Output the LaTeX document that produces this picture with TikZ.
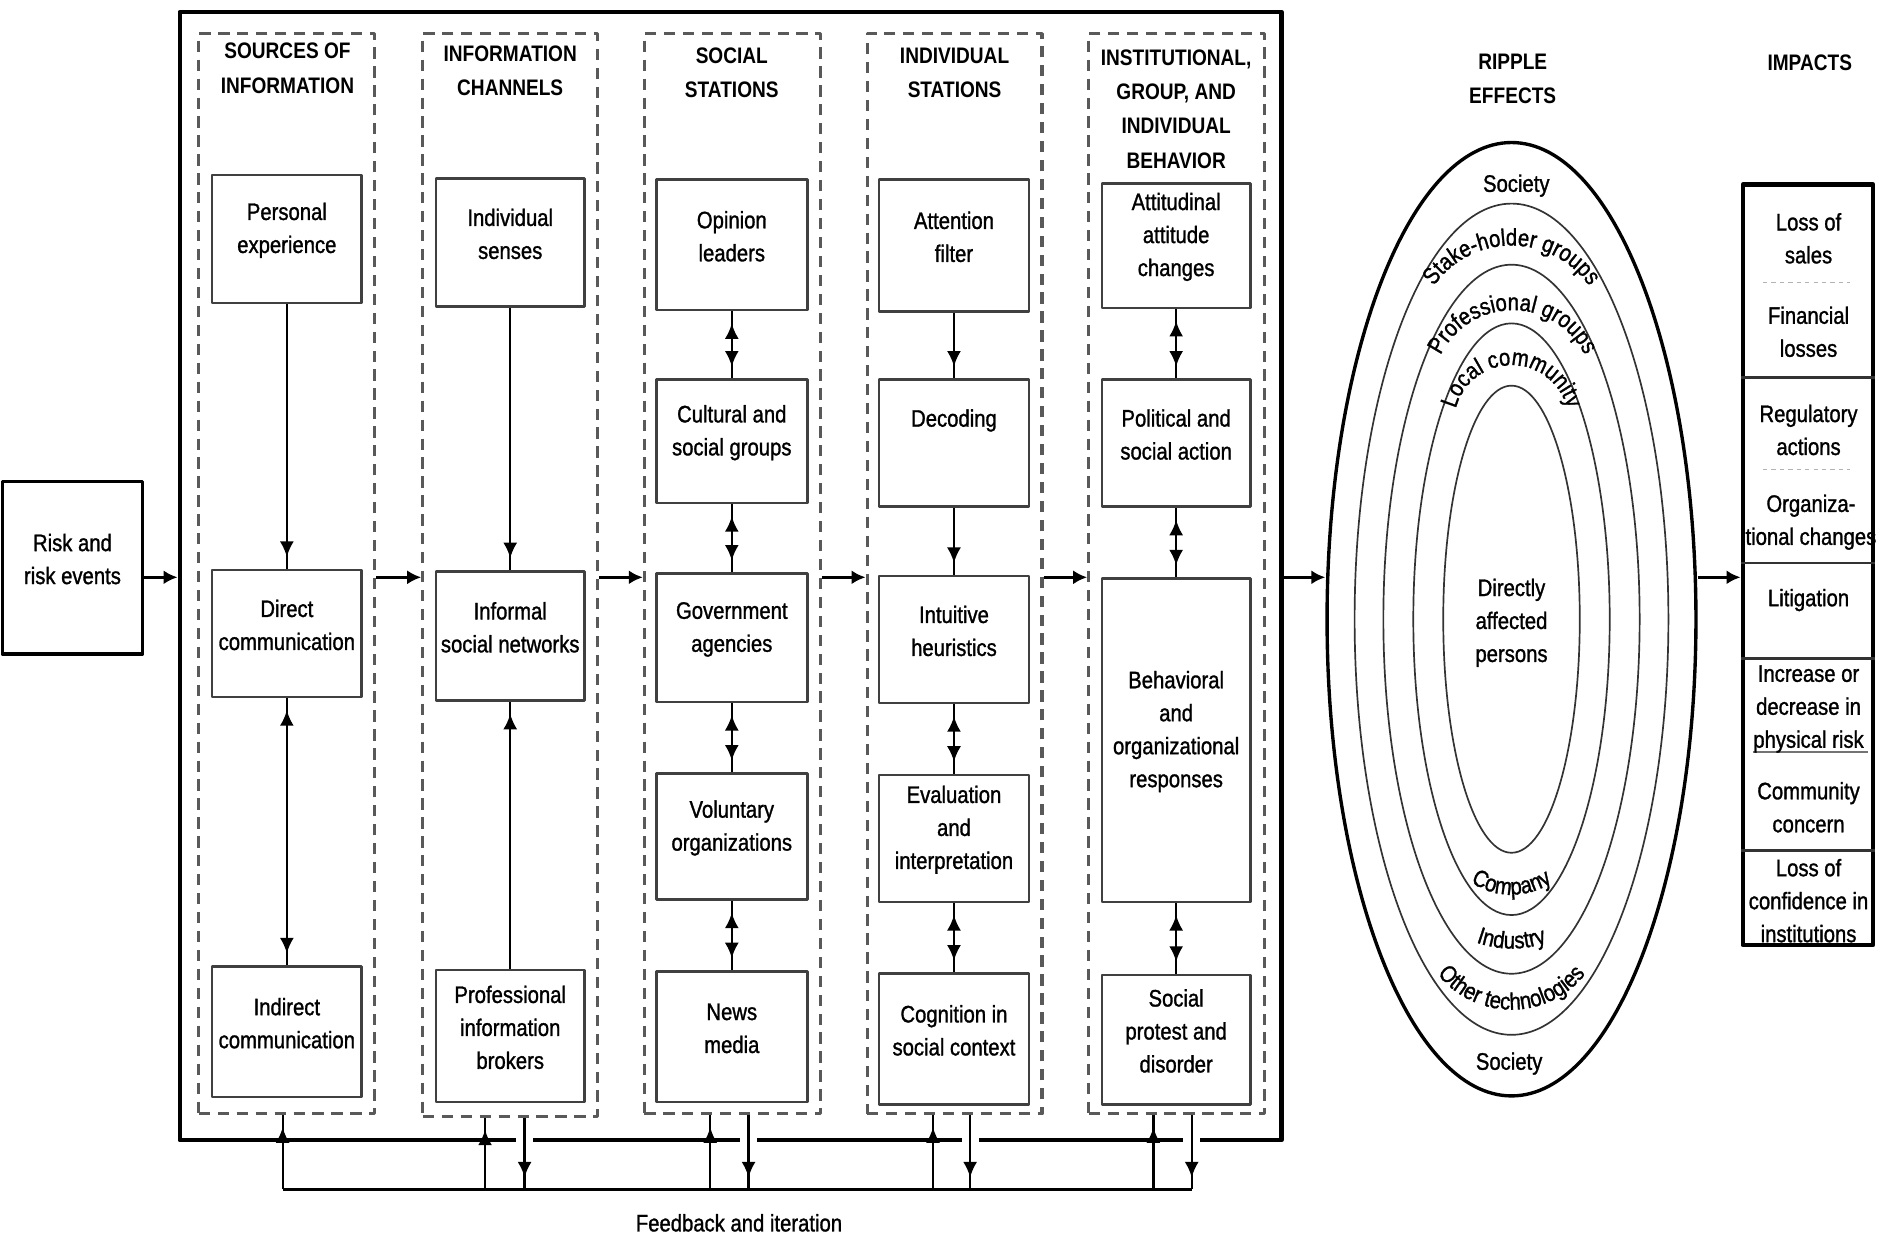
\documentclass[tikz,border=0pt]{standalone}
\usepackage{fontspec}
\setmainfont{Liberation Sans}[FakeStretch=0.85]
\newfontfamily\bodyfam{Liberation Sans}[FakeStretch=0.85, FakeBold=1.2]
\usepackage{tikz}
\usetikzlibrary{arrows.meta}
\usetikzlibrary{shapes}
\usetikzlibrary{fit}
\usetikzlibrary{decorations.markings}
\usetikzlibrary{decorations.text}

\newcommand{\boxfont}{\bodyfam\fontsize{17}{23.5}\selectfont}
\newcommand{\headfont}{\fontsize{16}{24.5}\selectfont\bfseries}

\begin{document}
\begin{tikzpicture}[x = 0.3mm, y = 0.3mm, line join = round,
  >={Latex[length=11pt, width=10pt]},
  box/.style = {draw = black!75, line width = 1.8pt, inner sep = 0pt, align = center, font = \boxfont},
  column/.style = {draw = black!65, line width = 2.2pt, dash pattern = on 8pt off 5.5pt, inner sep = 0pt},
  head/.style = {align = center, font = \headfont},
  txt/.style = {align = center, font = \boxfont, inner sep = 0pt},
  ring/.style = {draw = black!80, line width = 1.2pt},
  flowarrow/.style = {line width = 2pt, -{Latex[length=10pt, width=10pt]}},
  onehead/.style = {line width = 1.6pt, postaction = {decorate},
    decoration = {markings, mark = at position -3mm with {\arrow{>}}}},
  twohead/.style = {line width = 1.6pt, postaction = {decorate},
    decoration = {markings, mark = at position 3mm with {\arrowreversed{>}},
      mark = at position -3mm with {\arrow{>}}}},
  gapped/.style = {preaction = {draw = white, line width = 12pt, shorten <=4mm, shorten >=4mm}},
  arclabel/.style = {decorate, decoration = {text along path, text align = center, text = {|\boxfont|#1}}}
]

\useasboundingbox (0,0) rectangle (1568,-1034);

% outer frame and the risk event
\node[draw, line width = 3pt, inner sep = 0pt, fit = {(150,-10) (1070,-952)}] (frame) {};
\node[box, draw = black, line width = 2.6pt, fit = {(2,-402) (119,-546)}] (risk) {Risk and\\risk events};

% dashed columns
\node[column, fit = {(166,-28) (313,-930)}] (src) {};   % sources
\node[column, fit = {(353,-28) (499,-932)}] (chan) {};  % channels
\node[column, fit = {(538,-28) (685,-930)}] (soc) {};   % social stations
\node[column, fit = {(724,-28) (870,-930)}] (ind) {};   % individual stations
\node[column, fit = {(909,-28) (1056,-930)}] (beh) {};  % behavior

% column headings
\node[head] (hsrc) at (240,-57) {SOURCES OF\\INFORMATION};
\node[head] (hchan) at (426,-59) {INFORMATION\\CHANNELS};
\node[head] (hsoc) at (611,-61) {SOCIAL\\STATIONS};
\node[head] (hind) at (797,-61) {INDIVIDUAL\\STATIONS};
\node[head] (hbeh) at (982,-91) {INSTITUTIONAL,\\GROUP, AND\\INDIVIDUAL\\BEHAVIOR};
\node[head] (hrip) at (1263,-66) {RIPPLE\\EFFECTS};
\node[head] (himp) at (1511,-52) {IMPACTS};

% sources of information
\node[box, fit = {(177,-146) (302,-253)}] (pers) {Personal\\experience};
\node[box, fit = {(177,-476) (302,-582)}] (direct) {Direct\\communication};
\node[box, fit = {(177,-807) (302,-916)}] (indir) {Indirect\\communication};

% information channels
\node[box, fit = {(364,-149) (488,-256)}] (senses) {Individual\\senses};
\node[box, fit = {(364,-477) (488,-585)}] (infnet) {Informal\\social networks};
\node[box, fit = {(364,-810) (488,-920)}] (brokers) {Professional\\information\\brokers};

% social stations
\node[box, fit = {(548,-150) (674,-259)}] (opin) {Opinion\\leaders};
\node[box, fit = {(548,-317) (674,-420)}] (cult) {Cultural and\\social groups};
\node[box, fit = {(548,-479) (674,-586)}] (govt) {Government\\agencies};
\node[box, fit = {(548,-646) (674,-751)}] (volun) {Voluntary\\organizations};
\node[box, fit = {(548,-811) (674,-920)}] (news) {News\\media};

% individual stations
\node[box, fit = {(734,-150) (859,-260)}] (atten) {Attention\\filter};
\node[box, fit = {(734,-317) (859,-423)}] (decod) {Decoding\\\mbox{}};
\node[box, fit = {(734,-481) (859,-587)}] (intuit) {Intuitive\\heuristics};
\node[box, fit = {(734,-647) (859,-753)}] (evalu) {Evaluation\\and\\interpretation};
\node[box, fit = {(734,-813) (859,-922)}] (cogn) {Cognition in\\social context};

% behavior
\node[box, fit = {(920,-153) (1044,-257)}] (attit) {Attitudinal\\attitude\\changes};
\node[box, fit = {(920,-317) (1044,-423)}] (polit) {Political and\\social action};
\node[box, fit = {(920,-483) (1044,-753)}] (behav) {Behavioral\\and\\organizational\\responses};
\node[box, fit = {(920,-814) (1044,-922)}] (protest) {Social\\protest and\\disorder};

% links inside the columns
\draw[onehead] (pers) -- (direct);
\draw[twohead] (direct) -- (indir);
\draw[onehead] (senses) -- (infnet);
\draw[onehead] (brokers) -- (infnet);
\draw[twohead] (opin) -- (cult);
\draw[twohead] (cult) -- (govt);
\draw[twohead] (govt) -- (volun);
\draw[twohead] (volun) -- (news);
\draw[onehead] (atten) -- (decod);
\draw[onehead] (decod) -- (intuit);
\draw[twohead] (intuit) -- (evalu);
\draw[twohead] (evalu) -- (cogn);
\draw[twohead] (attit) -- (polit);
\draw[twohead] (polit) -- (behav);
\draw[twohead] (behav) -- (protest);

% ripple effects
\coordinate (rip) at (1262,-517);
\node[ellipse, draw, line width = 2.4pt, inner sep = 0pt, minimum width = 92.4mm, minimum height = 238.8mm] (ripple) at (rip) {};
\foreach \rx/\ry in {39.3mm/104.1mm, 32.1mm/88.8mm, 24.6mm/74.1mm, 17.1mm/58.5mm}
  \draw[ring] (rip) ellipse [x radius = \rx, y radius = \ry];

\node[txt] (soctop) at (1266,-155) {Society};
\path[arclabel = {Stake-holder groups}] (1262,-284) ++(160:23.7mm) arc[start angle = 160, end angle = 20, radius = 23.7mm];
\path[arclabel = {Professional groups}] (1263,-326) ++(165:20.1mm) arc[start angle = 165, end angle = 15, radius = 20.1mm];
\path[arclabel = {Local community}] (1262,-353) ++(175:14.4mm) arc[start angle = 175, end angle = 5, radius = 14.4mm];
\node[txt] (affected) at (1262,-520) {Directly\\affected\\persons};
\path[arclabel = {Company}] (1262,-686) ++(210:18.3mm) arc[start angle = 210, end angle = 330, radius = 18.3mm];
\path[arclabel = {Industry}] (1262,-705) ++(225:26.1mm) arc[start angle = 225, end angle = 315, radius = 26.1mm];
\path[arclabel = {Other technologies}] (1262,-764) ++(200:23.7mm) arc[start angle = 200, end angle = 340, radius = 23.7mm];
\node[txt] (socbot) at (1260,-888) {Society};

% impacts
\node[draw, line width = 3pt, inner sep = 0pt, fit = {(1455,-154) (1564,-789)}] (impacts) {};
\foreach \y in {315, 470, 550, 710}
  \draw[line width = 2pt, black!80] (impacts.west |- 0,-\y) -- (impacts.east |- 0,-\y);
\foreach \y in {236, 392}
  \draw[black!30, line width = 1pt, dashed] (1472,-\y) -- (1545,-\y);
\draw[black!55, line width = 1pt] (1464,-628) -- (1560,-628);
\foreach \txt/\x/\y [count=\i] in {{Loss of\\sales}/1510/199, {Financial\\losses}/1510/277, {Regulatory\\actions}/1510/359,
    {Organiza-\\tional changes}/1512/436, {Litigation}/1510/501, {Increase or\\decrease in\\physical risk}/1510/592,
    {Community\\concern}/1510/674, {Loss of\\confidence in\\institutions}/1510/752}
  \node[txt] (imp\i) at (\x,-\y) {\txt};

% main flow
\coordinate (flow) at (0,-482);
\draw[flowarrow] (risk.east |- flow) -- (frame.west |- flow);
\foreach \a/\b in {src/chan, chan/soc, soc/ind, ind/beh}
  \draw[flowarrow] (\a.east |- flow) -- (\b.west |- flow);
\draw[flowarrow] (frame.east |- flow) -- (ripple.west |- flow);
\draw[flowarrow] (ripple.east |- flow) -- (impacts.west |- flow);

% feedback and iteration
\coordinate (fbstart) at (236,-993);
\coordinate (fbend) at (995,-993);
\draw[line width = 1.8pt] (fbstart) -- (fbend);
\draw[onehead] (fbstart) -- (fbstart |- src.south);
\foreach \up/\dn/\col in {405/438/chan, 593/625/soc, 779/810/ind, 963/995/beh} {
  \coordinate (fbup) at (\up,-993);
  \coordinate (fbdn) at (\dn,-993);
  \draw[onehead] (fbup) -- (fbup |- \col.south);
  \draw[onehead, gapped] (fbdn |- \col.south) -- (fbdn);
}
\node[txt] (fbtext) at (617,-1021) {Feedback and iteration};

\end{tikzpicture}
\end{document}
